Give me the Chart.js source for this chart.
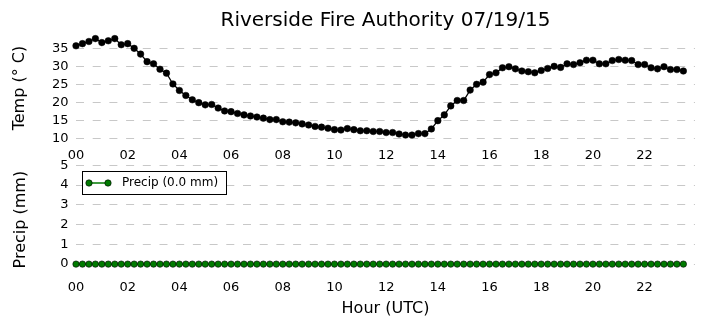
<!DOCTYPE html>
<html>
<head>
<meta charset="utf-8">
<script src="https://cdn.jsdelivr.net/npm/chart.js@4.4.1/dist/chart.umd.min.js"></script>
<style>
html,body{margin:0;padding:0;background:#fff;}
#wrap{position:relative;width:705px;height:329px;overflow:hidden;background:#fff;}
canvas{position:absolute;left:0;}
#c1{top:0;}
#c2{top:150px;}
</style>
</head>
<body>
<div id="wrap">
<canvas id="c1" width="705" height="170"></canvas>
<canvas id="c2" width="705" height="179"></canvas>
</div>
<script>
const chartTitle = 'Riverside Fire Authority 07/19/15';
const tempAxisTitle = 'Temp (° C)';
const precipAxisTitle = 'Precip (mm)';
const hourAxisTitle = 'Hour (UTC)';
const precipLabel = 'Precip (0.0 mm)';

const times = [
 '00:00','00:15','00:30','00:45','01:00','01:15','01:30','01:45',
 '02:00','02:15','02:30','02:45','03:00','03:15','03:30','03:45',
 '04:00','04:15','04:30','04:45','05:00','05:15','05:30','05:45',
 '06:00','06:15','06:30','06:45','07:00','07:15','07:30','07:45',
 '08:00','08:15','08:30','08:45','09:00','09:15','09:30','09:45',
 '10:00','10:15','10:30','10:45','11:00','11:15','11:30','11:45',
 '12:00','12:15','12:30','12:45','13:00','13:15','13:30','13:45',
 '14:00','14:15','14:30','14:45','15:00','15:15','15:30','15:45',
 '16:00','16:15','16:30','16:45','17:00','17:15','17:30','17:45',
 '18:00','18:15','18:30','18:45','19:00','19:15','19:30','19:45',
 '20:00','20:15','20:30','20:45','21:00','21:15','21:30','21:45',
 '22:00','22:15','22:30','22:45','23:00','23:15','23:30'
];

const tempC = [
 35.7,36.3,36.9,37.7,36.6,37.1,37.7,36.0,
 36.3,35.0,33.4,31.3,30.7,29.2,28.1,25.1,
 23.3,21.9,20.7,19.9,19.3,19.4,18.4,17.6,
 17.4,16.9,16.5,16.2,15.9,15.6,15.2,15.2,
 14.6,14.5,14.3,14.0,13.7,13.3,13.1,12.8,
 12.4,12.3,12.7,12.4,12.1,12.1,11.9,11.9,
 11.6,11.6,11.2,10.9,10.9,11.3,11.3,12.6,
 14.9,16.5,19.0,20.5,20.5,23.4,25.0,25.6,
 27.7,28.2,29.6,29.9,29.3,28.7,28.5,28.2,
 28.85,29.4,30.0,29.7,30.7,30.5,31.0,31.7,
 31.7,30.7,30.7,31.6,31.9,31.7,31.6,30.5,
 30.5,29.6,29.3,29.9,29.1,29.1,28.7
];

const precipMm = [
 0,0,0,0,0,0,0,0, 0,0,0,0,0,0,0,0,
 0,0,0,0,0,0,0,0, 0,0,0,0,0,0,0,0,
 0,0,0,0,0,0,0,0, 0,0,0,0,0,0,0,0,
 0,0,0,0,0,0,0,0, 0,0,0,0,0,0,0,0,
 0,0,0,0,0,0,0,0, 0,0,0,0,0,0,0,0,
 0,0,0,0,0,0,0,0, 0,0,0,0,0,0,0
];

const hourTickLabels = ['00','02','04','06','08','10','12','14','16','18','20','22'];
const tempTicks = [10,15,20,25,30,35];
const precipTicks = [0,1,2,3,4,5];

const FONT = 'DejaVu Sans';
Chart.defaults.font.family = FONT;
Chart.defaults.color = '#000';

function toHours(t){ const p = t.split(':'); return parseInt(p[0],10) + parseInt(p[1],10)/60; }

const gridColor = '#c8c8c8';
const gridDash = [8, 8.7];

function xScale(tickPad, withTitle){
  return {
    type: 'linear',
    min: 0, max: 23.95,
    afterBuildTicks: ax => { ax.ticks = hourTickLabels.map(s => ({value: parseInt(s,10)})); },
    afterFit: ax => { ax.height = withTitle ? 55 : 29.9; },
    grid: { display: false, drawTicks: false },
    border: { display: false },
    ticks: { padding: tickPad, maxRotation: 0, autoSkip: false, font: {size: 13}, color: '#000',
      callback: (v, i) => hourTickLabels[i] },
    title: withTitle ? { display: true, text: hourAxisTitle, font: {size: 16}, color: '#000', padding: {top: 0, bottom: 10.4} } : { display: false }
  };
}

function yScale(min, max, ticksArr, title, titlePad){
  return {
    min: min, max: max,
    afterBuildTicks: ax => { ax.ticks = ticksArr.map(v => ({value: v})); },
    afterFit: ax => { ax.width = 76; },
    grid: { color: gridColor, lineWidth: 1, drawTicks: false },
    border: { display: false, dash: gridDash },
    ticks: { padding: 7.5, font: {size: 13}, color: '#000' },
    title: { display: true, text: title, font: {size: 16}, color: '#000', padding: {top: titlePad, bottom: 0} }
  };
}

new Chart(document.getElementById('c1'), {
  type: 'line',
  data: {
    datasets: [{
      label: 'Temp',
      data: times.map((t, i) => ({x: toHours(t), y: tempC[i]})),
      borderColor: '#000', borderWidth: 1.3,
      pointBackgroundColor: '#000', pointBorderColor: '#000', pointBorderWidth: 0.5,
      pointRadius: 3.3, tension: 0, clip: false
    }]
  },
  options: {
    responsive: false, animation: false, devicePixelRatio: 1,
    layout: { padding: {left: 0, right: 10, top: 0, bottom: 0} },
    plugins: {
      legend: { display: false }, tooltip: { enabled: false },
      title: { display: true, text: chartTitle, fullSize: false, color: '#000',
        font: {size: 20, weight: 'normal'}, padding: {top: 8.8, bottom: 3.3} }
    },
    scales: {
      x: xScale(8.2, false),
      y: yScale(9.5, 38.4, tempTicks, tempAxisTitle, 10)
    }
  }
});

const legendBox = {
  id: 'legendBox',
  afterDraw(chart){
    const ctx = chart.ctx, ca = chart.chartArea;
    const ds = chart.data.datasets[0];
    const bx = Math.round(ca.left + 6) + 0.5, by = Math.round(ca.top + 6) + 0.5;
    const bw = 144, bh = 23;
    ctx.save();
    ctx.fillStyle = '#fff';
    ctx.fillRect(bx, by, bw, bh);
    ctx.strokeStyle = '#000'; ctx.lineWidth = 1;
    ctx.strokeRect(bx, by, bw, bh);
    const cy = by + bh/2;
    const x1 = bx + 6.5, x2 = bx + 25.5;
    ctx.strokeStyle = ds.borderColor; ctx.lineWidth = 1.5;
    ctx.beginPath(); ctx.moveTo(x1, cy); ctx.lineTo(x2, cy); ctx.stroke();
    [x1, x2].forEach(x => {
      ctx.beginPath(); ctx.arc(x, cy, ds.pointRadius, 0, Math.PI*2);
      ctx.fillStyle = ds.pointBackgroundColor; ctx.fill();
      ctx.lineWidth = ds.pointBorderWidth; ctx.strokeStyle = ds.pointBorderColor; ctx.stroke();
    });
    ctx.fillStyle = '#000';
    ctx.font = '12px "' + FONT + '"';
    ctx.textBaseline = 'middle'; ctx.textAlign = 'left';
    ctx.fillText(ds.label, bx + 39.5, cy);
    ctx.restore();
  }
};

new Chart(document.getElementById('c2'), {
  type: 'line',
  data: {
    datasets: [{
      label: precipLabel,
      data: times.map((t, i) => ({x: toHours(t), y: precipMm[i]})),
      borderColor: '#007a00', borderWidth: 1.3,
      pointBackgroundColor: '#007a00', pointBorderColor: '#000', pointBorderWidth: 0.6,
      pointRadius: 3.2, tension: 0, clip: false
    }]
  },
  options: {
    responsive: false, animation: false, devicePixelRatio: 1,
    layout: { padding: {left: 0, right: 10, top: 14, bottom: 0} },
    plugins: { legend: { display: false }, tooltip: { enabled: false }, title: { display: false } },
    scales: {
      x: xScale(5.8, true),
      y: yScale(-0.5, 5, precipTicks, precipAxisTitle, 11)
    }
  },
  plugins: [legendBox]
});
</script>
</body>
</html>
